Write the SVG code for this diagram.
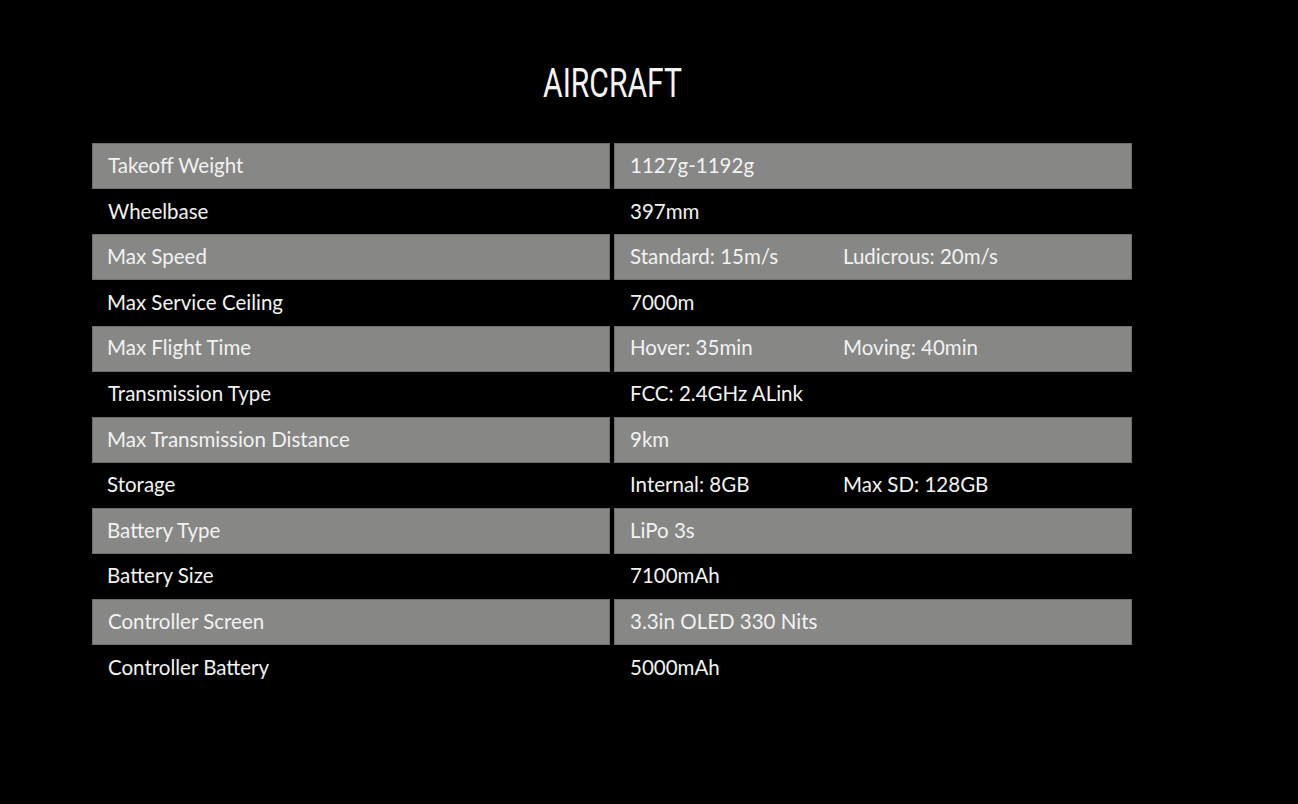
<svg xmlns="http://www.w3.org/2000/svg" width="1298" height="804" viewBox="0 0 1298 804">
<style>
.bg{fill:#000}
.band{fill:#878785;stroke:#6e6e6c;stroke-width:1}
.t{font-family:Lato,"Noto Sans",sans-serif;font-size:20.5px;fill:#f2f2f2}
.title{font-family:Roboto,"Liberation Sans",sans-serif;font-size:40px;fill:#f4f4f4}
</style>
<rect class="bg" x="0" y="0" width="1298" height="804"/>
<text class="title" x="543" y="97" textLength="139" lengthAdjust="spacingAndGlyphs">AIRCRAFT</text>
<g id="bands">
<rect class="band" x="92.5" y="143.5" width="517" height="45"/>
<rect class="band" x="614.5" y="143.5" width="517" height="45"/>
<rect class="band" x="92.5" y="234.5" width="517" height="45"/>
<rect class="band" x="614.5" y="234.5" width="517" height="45"/>
<rect class="band" x="92.5" y="326.5" width="517" height="45"/>
<rect class="band" x="614.5" y="326.5" width="517" height="45"/>
<rect class="band" x="92.5" y="417.5" width="517" height="45"/>
<rect class="band" x="614.5" y="417.5" width="517" height="45"/>
<rect class="band" x="92.5" y="508.5" width="517" height="45"/>
<rect class="band" x="614.5" y="508.5" width="517" height="45"/>
<rect class="band" x="92.5" y="599.5" width="517" height="45"/>
<rect class="band" x="614.5" y="599.5" width="517" height="45"/>
</g>
<g id="row1"><text class="t" x="108" y="173">Takeoff Weight</text><text class="t" x="630" y="173">1127g-1192g</text></g>
<g id="row2"><text class="t" x="108" y="219">Wheelbase</text><text class="t" x="630" y="219">397mm</text></g>
<g id="row3"><text class="t" x="107" y="264">Max Speed</text><text class="t" x="630" y="264">Standard: 15m/s</text><text class="t" x="843" y="264">Ludicrous: 20m/s</text></g>
<g id="row4"><text class="t" x="107" y="310">Max Service Ceiling</text><text class="t" x="630" y="310">7000m</text></g>
<g id="row5"><text class="t" x="107" y="355">Max Flight Time</text><text class="t" x="630" y="355">Hover: 35min</text><text class="t" x="843" y="355">Moving: 40min</text></g>
<g id="row6"><text class="t" x="108" y="401">Transmission Type</text><text class="t" x="630" y="401">FCC: 2.4GHz ALink</text></g>
<g id="row7"><text class="t" x="107" y="447">Max Transmission Distance</text><text class="t" x="630" y="447">9km</text></g>
<g id="row8"><text class="t" x="107" y="492">Storage</text><text class="t" x="630" y="492">Internal: 8GB</text><text class="t" x="843" y="492">Max SD: 128GB</text></g>
<g id="row9"><text class="t" x="107" y="538">Battery Type</text><text class="t" x="630" y="538">LiPo 3s</text></g>
<g id="row10"><text class="t" x="107" y="583">Battery Size</text><text class="t" x="630" y="583">7100mAh</text></g>
<g id="row11"><text class="t" x="108" y="629">Controller Screen</text><text class="t" x="630" y="629">3.3in OLED 330 Nits</text></g>
<g id="row12"><text class="t" x="108" y="675">Controller Battery</text><text class="t" x="630" y="675">5000mAh</text></g>
</svg>
